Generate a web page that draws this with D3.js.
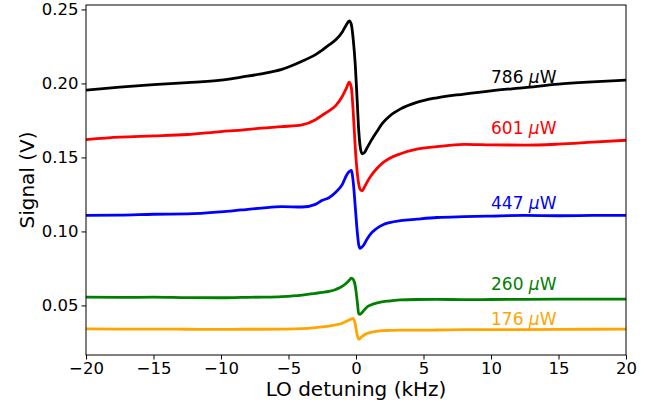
<!DOCTYPE html>
<html><head><meta charset="utf-8">
<script src="https://cdn.jsdelivr.net/npm/d3@7"></script>
<style>body{margin:0;background:#fff}svg{display:block}text{font-family:"DejaVu Sans",sans-serif}</style>
</head><body><svg id="c" width="652" height="407"></svg>
<script>
const detuning = [-20,-17.5,-15,-12.5,-10,-8.5,-7,-5.5,-4,-3,-2.5,-2,-1.5,-1,-0.7,-0.5,-0.35,-0.2,-0.05,0.1,0.2,0.3,0.45,0.6,0.8,1.1,1.5,2,2.5,3.3,4.5,6,8,10,12.5,15,17.5,20];
const s786 = [0.1955,0.1975,0.1992,0.2005,0.2022,0.2043,0.2065,0.2095,0.2150,0.2195,0.2225,0.2260,0.2295,0.2350,0.2398,0.2422,0.2400,0.2293,0.2120,0.1860,0.1684,0.1580,0.1525,0.1530,0.1562,0.1610,0.1668,0.1735,0.1780,0.1828,0.1872,0.1903,0.1928,0.1950,0.1972,0.1995,0.2010,0.2022];
const s601 = [0.1621,0.1637,0.1645,0.1655,0.1675,0.1685,0.1698,0.1708,0.1720,0.1755,0.1785,0.1815,0.1850,0.1915,0.1970,0.2009,0.1975,0.1800,0.1560,0.1390,0.1320,0.1285,0.1275,0.1295,0.1330,0.1375,0.1420,0.1465,0.1495,0.1525,0.1556,0.1573,0.1588,0.1585,0.1583,0.1590,0.1603,0.1616];
const s447 = [0.1109,0.1110,0.1116,0.1118,0.1132,0.1145,0.1158,0.1168,0.1165,0.1183,0.1210,0.1228,0.1265,0.1320,0.1380,0.1405,0.1413,0.1330,0.1160,0.0990,0.0910,0.0886,0.0895,0.0912,0.0945,0.0985,0.1018,0.1045,0.1060,0.1073,0.1083,0.1094,0.1100,0.1104,0.1108,0.1106,0.1108,0.1109];
const s260 = [0.0556,0.0554,0.0556,0.0553,0.0552,0.0554,0.0556,0.0560,0.0570,0.0582,0.0588,0.0595,0.0608,0.0630,0.0652,0.0670,0.0685,0.0675,0.0630,0.0520,0.0445,0.0440,0.0452,0.0468,0.0488,0.0503,0.0515,0.0525,0.0530,0.0537,0.0540,0.0541,0.0539,0.0540,0.0541,0.0542,0.0543,0.0543];
const s176 = [0.0342,0.0340,0.0340,0.0339,0.0338,0.0339,0.0339,0.0340,0.0343,0.0350,0.0355,0.0360,0.0368,0.0380,0.0393,0.0402,0.0408,0.0412,0.0370,0.0295,0.0272,0.0278,0.0290,0.0300,0.0310,0.0318,0.0325,0.0330,0.0331,0.0333,0.0333,0.0334,0.0336,0.0336,0.0337,0.0338,0.0339,0.0340];
const powers = ["786","601","447","260","176"];
const colors = ["#000000","#ff0000","#0000ff","#008000","#ffa500"];
const labelX = 10;
const labelY = [0.2002,0.1657,0.1154,0.0606,0.0365];
const xTicks = [-20,-15,-10,-5,0,5,10,15,20];
const yTicks = [0.05,0.10,0.15,0.20,0.25];

const series = [s786,s601,s447,s260,s176];
const svg = d3.select("#c");
const L=86,R=626,T=5,B=355;
const x = d3.scaleLinear().domain([-20,20]).range([L,R]);
const y = d3.scaleLinear().domain([0.0165,0.2530]).range([B,T]);

const line = d3.line().curve(d3.curveMonotoneX).x((d,i)=>x(detuning[i])).y(d=>y(d));
series.forEach((s,k)=>{
  svg.append("path").datum(s).attr("d",line).attr("fill","none")
    .attr("stroke",colors[k]).attr("stroke-width",2.8).attr("stroke-linejoin","round");
});

const fmtMinus = v => String(v).replace("-","\u2212");
const xa = svg.append("g").attr("transform",`translate(0,${B})`)
  .call(d3.axisBottom(x).tickValues(xTicks).tickFormat(fmtMinus).tickSize(4.5).tickPadding(3));
const ya = svg.append("g").attr("transform",`translate(${L},0)`)
  .call(d3.axisLeft(y).tickValues(yTicks).tickFormat(d3.format(".2f")).tickSize(4.5).tickPadding(3));
[xa,ya].forEach(g=>{
  g.select(".domain").remove();
  g.selectAll("line").attr("stroke","#000").attr("stroke-width",1);
  g.selectAll("text").attr("font-size",16.5).attr("font-family","DejaVu Sans").attr("fill","#000");
});

svg.append("rect").attr("x",L).attr("y",T).attr("width",R-L).attr("height",B-T)
  .attr("fill","none").attr("stroke","#000").attr("stroke-width",1);

powers.forEach((p,k)=>{
  const t = svg.append("text").attr("x",x(labelX)).attr("y",y(labelY[k]))
    .attr("font-size",17).attr("fill",colors[k]);
  t.append("tspan").text(p+" ");
  t.append("tspan").attr("font-style","italic").text("\u03bc");
  t.append("tspan").text("W");
});

svg.append("text").attr("x",(L+R)/2).attr("y",396).attr("text-anchor","middle")
  .attr("font-size",20).text("LO detuning (kHz)");
svg.append("text").attr("transform",`translate(34,${(T+B)/2}) rotate(-90)`)
  .attr("text-anchor","middle").attr("font-size",20).text("Signal (V)");
</script></body></html>
